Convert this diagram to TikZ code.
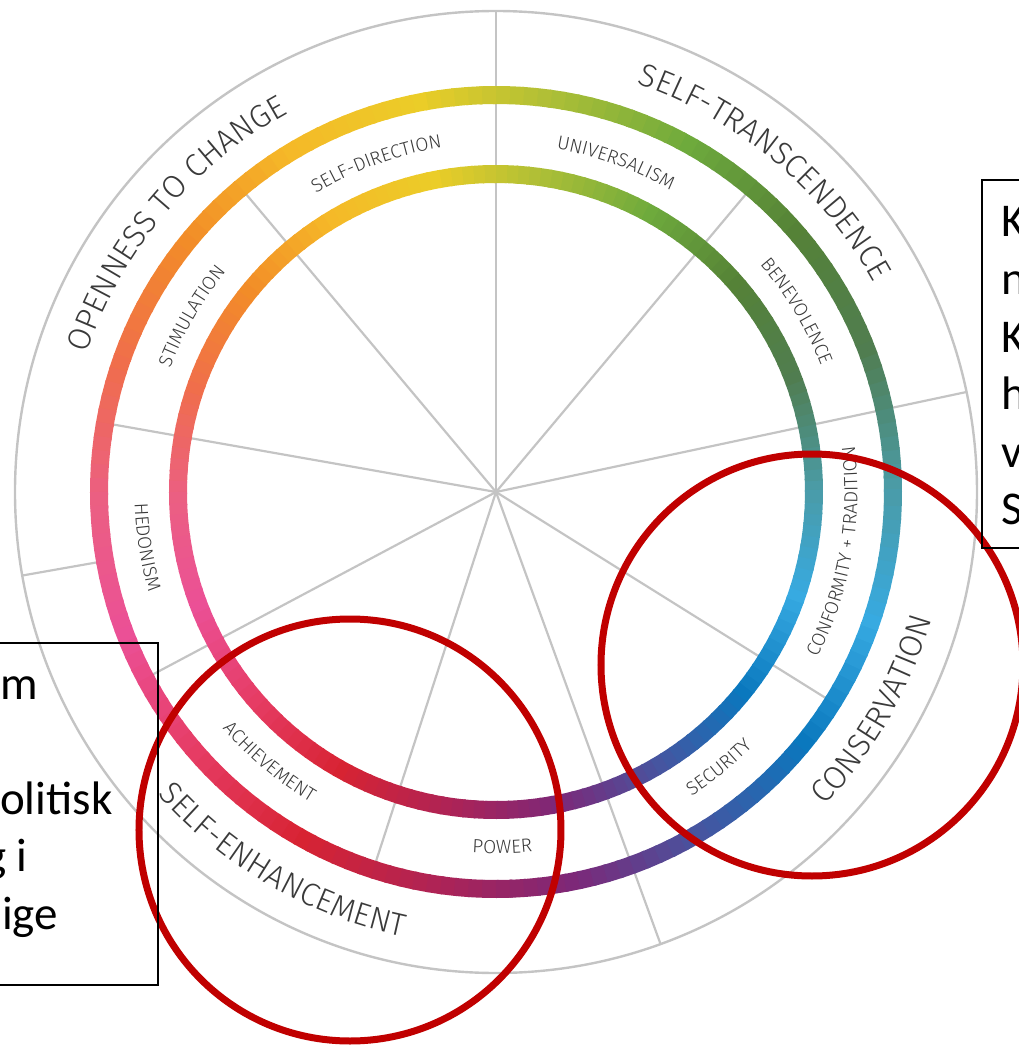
\documentclass[tikz,border=0pt]{standalone}
\usepackage{fontspec}
\usepackage{tikz}
\usetikzlibrary{decorations.text}
\setmainfont{Carlito}
\newfontfamily\wheelfont{Fira Sans Light}

\definecolor{spokegray}{RGB}{196, 196, 196}
\definecolor{labelgray}{RGB}{58, 58, 58}
\definecolor{markred}{RGB}{192, 0, 0}
% ring colours every 20 degrees, counterclockwise from the right
\definecolor{c0}{RGB}{75, 155, 165}
\definecolor{c1}{RGB}{80, 125, 80}
\definecolor{c2}{RGB}{85, 130, 55}
\definecolor{c3}{RGB}{110, 170, 60}
\definecolor{c4}{RGB}{170, 190, 55}
\definecolor{c5}{RGB}{235, 205, 40}
\definecolor{c6}{RGB}{245, 185, 40}
\definecolor{c7}{RGB}{242, 140, 40}
\definecolor{c8}{RGB}{240, 110, 75}
\definecolor{c9}{RGB}{235, 95, 130}
\definecolor{c10}{RGB}{235, 80, 150}
\definecolor{c11}{RGB}{230, 60, 100}
\definecolor{c12}{RGB}{215, 35, 50}
\definecolor{c13}{RGB}{175, 35, 85}
\definecolor{c14}{RGB}{125, 40, 120}
\definecolor{c15}{RGB}{70, 85, 160}
\definecolor{c16}{RGB}{10, 120, 190}
\definecolor{c17}{RGB}{55, 170, 225}
\definecolor{c18}{RGB}{75, 155, 165}

\tikzset{
  spoke/.style={spokegray, line width=2.2pt},
  ringseg/.style={line width=18pt},
  markcircle/.style={markred, line width=7pt},
  notebox/.style={draw, line width=1.6pt, inner sep=0pt},
  boxtext/.style={font=\fontsize{47}{56}\selectfont, inner sep=0pt, anchor=base west},
  themelabel/.style={decorate, decoration={text along path, text align=center,
      text={|\wheelfont\fontsize{32}{32}\selectfont\color{labelgray}|#1}}},
  valuelabel/.style={decorate, decoration={text along path, text align=center,
      text={|\wheelfont\fontsize{19}{19}\selectfont\color{labelgray}|#1}}}
}

\begin{document}
\begin{tikzpicture}[x=1pt, y=1pt]
  \useasboundingbox (-496,-561) rectangle (523,492);
  \clip (-496,-561) rectangle (523,492);
  \coordinate (hub) at (0,0);

  % Dividers
  \foreach \ang in {12, 90, 290}
    \draw[spoke] (hub) -- (\ang:481);
  \foreach \ang in {50, 130, 170, 208, 252, 328}
    \draw[spoke] (hub) -- (\ang:397);
  \draw[spoke] (190:397) -- (190:481);
  \draw[spokegray, line width=2.4pt] (hub) circle[radius=481];

  % Colour rings
  \foreach \i [evaluate=\i as \j using int(\i+1)] in {0,...,17} {
    \foreach \k in {0,2,...,18} {
      \pgfmathsetmacro\a{20*\i+\k}
      \pgfmathtruncatemacro\p{100-5*\k}
      \draw[ringseg, draw=c\i!\p!c\j] (\a:318) arc[start angle=\a, end angle=\a+2.4, radius=318];
      \draw[ringseg, draw=c\i!\p!c\j] (\a:397) arc[start angle=\a, end angle=\a+2.4, radius=397];
    }
  }

  % Higher order values
  \path[themelabel={OPENNESS TO CHANGE}] (175:432) arc[start angle=175, end angle=105, radius=432];
  \path[themelabel={SELF-TRANSCENDENCE}] (85:432) arc[start angle=85, end angle=15, radius=432];
  \path[themelabel={SELF-ENHANCEMENT}] (205:454) arc[start angle=205, end angle=275, radius=454];
  \path[themelabel={CONSERVATION}] (295:454) arc[start angle=295, end angle=365, radius=454];

  % Basic values
  \path[valuelabel={SELF-DIRECTION}] (138:348.5) arc[start angle=138, end angle=82, radius=348.5];
  \path[valuelabel={UNIVERSALISM}] (98:348.5) arc[start angle=98, end angle=42, radius=348.5];
  \path[valuelabel={BENEVOLENCE}] (59:348.5) arc[start angle=59, end angle=3, radius=348.5];
  \path[valuelabel={STIMULATION}] (178:348.5) arc[start angle=178, end angle=122, radius=348.5];
  \path[valuelabel={HEDONISM}] (161:361.5) arc[start angle=161, end angle=217, radius=361.5];
  \path[valuelabel={ACHIEVEMENT}] (202:361.5) arc[start angle=202, end angle=258, radius=361.5];
  \path[valuelabel={POWER}] (243:361.5) arc[start angle=243, end angle=299, radius=361.5];
  \path[valuelabel={SECURITY}] (281:361.5) arc[start angle=281, end angle=337, radius=361.5];
  \path[valuelabel={CONFORMITY + TRADITION}] (322:361.5) arc[start angle=322, end angle=378, radius=361.5];

  % Red highlights
  \draw[markcircle] (-146,-338) circle[radius=211];
  \draw[markcircle] (316,-173) circle[radius=211];

  % Text boxes, cut by the page edge
  \node[notebox, minimum width=208pt, minimum height=342pt] (leftbox) at (-442,-322) {};
  \foreach \txt/\xx/\yy [count=\n] in {m/-496/-207, olitisk/-496/-322, g i/-512/-379.5, ige/-494/-437}
    \node[boxtext] (lefttext\n) at (\xx,\yy) {\txt};
  \node[notebox, minimum width=88pt, minimum height=368pt] (rightbox) at (530,128) {};
  \foreach \txt/\yy [count=\n] in {K/255, n/197.5, K/140, h/82.5, v/25, S/-32.5}
    \node[boxtext] (righttext\n) at (505,\yy) {\txt};
\end{tikzpicture}
\end{document}
